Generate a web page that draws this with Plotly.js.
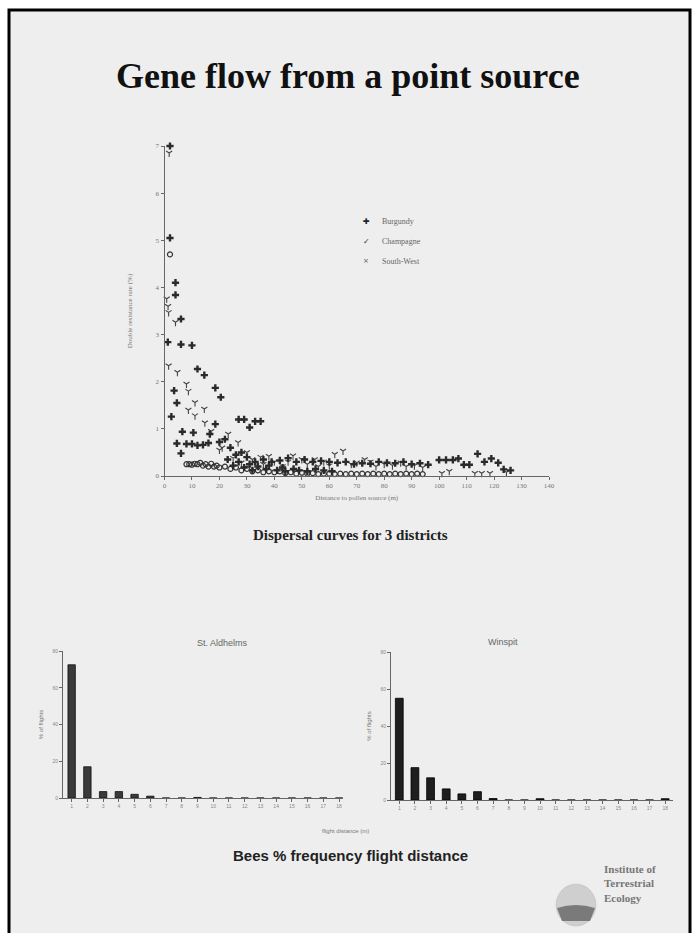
<!DOCTYPE html>
<html><head><meta charset="utf-8">
<script src="https://cdn.plot.ly/plotly-3.0.1.min.js"></script>
<style>html,body{margin:0;padding:0;background:#fff}#chart{width:695px;height:933px}</style>
</head><body><div id="chart"></div>
<script>
// ---- Dispersal data (distance m, double resistance %) ----
const burgundyX = [2,2,4,4,6,1.2,6,10,12,14.5,18.5,20.5,3.5,4.5,2.5,27,29,31,33,35,18.5,6.5,10.5,16.5,22,4.5,6,8,10,12,14,16,20,24,26,28,30,33,36,39,42,45,48,51,54,57,60,63,66,69,72,75,78,81,84,87,90,93,96,100,102.5,105,107,109,111,114,116.5,119,121.5,123.5,126,
  23,25,27,29,31,32,34,37,38,41,43,44,47,49,52,55,58,61];
const burgundyY = [7.0,5.05,4.1,3.84,3.33,2.84,2.79,2.77,2.27,2.14,1.87,1.67,1.81,1.55,1.26,1.2,1.2,1.03,1.16,1.16,1.1,0.94,0.92,0.89,0.78,0.69,0.48,0.68,0.68,0.65,0.66,0.7,0.72,0.6,0.45,0.5,0.4,0.3,0.35,0.3,0.33,0.38,0.3,0.35,0.3,0.32,0.3,0.28,0.3,0.25,0.27,0.26,0.3,0.28,0.27,0.3,0.25,0.27,0.24,0.34,0.34,0.34,0.37,0.24,0.24,0.47,0.3,0.37,0.28,0.14,0.12,
  0.35,0.22,0.3,0.18,0.25,0.12,0.2,0.15,0.22,0.12,0.18,0.1,0.15,0.12,0.1,0.15,0.12,0.1];
const champagneX = [1.7,1.3,1.5,0.8,4,1.5,4.7,8,8.7,11.1,14.5,8.7,11.1,14.7,23.2,26.8,20,30,35,40,46.8,50,54.7,58,62,65,68,72.9,77,83,88,94,101,103.7,113,115.5,118.5,124.5,
  17,21,25,28,32,36,38,43,45,52,56,60,70,75,80,86,91];
const champagneY = [6.85,3.6,3.47,3.76,3.26,2.34,2.2,1.95,1.8,1.56,1.42,1.4,1.28,1.13,0.89,0.71,0.55,0.5,0.4,0.3,0.43,0.35,0.35,0.3,0.46,0.53,0.25,0.35,0.2,0.22,0.2,0.18,0.06,0.1,0.06,0.06,0.06,0.08,
  0.95,0.6,0.38,0.28,0.35,0.25,0.42,0.2,0.3,0.25,0.2,0.22,0.28,0.3,0.25,0.28,0.22];
const southWestX = [2,8,9,10,11,12,13,14,15,16,17,18,19,20,22,24,26,28,30,32,34,36,38,40,42,44,46,48,50,52,54,56,58,60,62,64,66,68,70,72,74,76,78,80,82,84,86,88,90,92,94];
const southWestY = [4.7,0.25,0.25,0.24,0.26,0.25,0.28,0.22,0.25,0.2,0.26,0.2,0.22,0.18,0.2,0.15,0.18,0.12,0.15,0.1,0.12,0.08,0.1,0.08,0.1,0.06,0.08,0.05,0.07,0.05,0.06,0.04,0.05,0.05,0.04,0.05,0.04,0.05,0.04,0.05,0.04,0.05,0.04,0.05,0.04,0.05,0.04,0.05,0.04,0.05,0.04];

// ---- Bee flight distance data ----
const flightDistance = [1,2,3,4,5,6,7,8,9,10,11,12,13,14,15,16,17,18];
const stAldhelms = [72.5,17,3.5,3.5,2,1,0,0,0.3,0,0,0,0,0,0,0,0,0];
const winspit = [55,17.5,12,6,3.3,4.5,0.8,0,0,0.7,0,0,0,0,0,0,0,0.7];

const W = 695, H = 933;
const fx = p => p / W, fy = p => 1 - p / H;

const serif = 'Liberation Serif, Times New Roman, serif';
const sans = 'Liberation Sans, Arial, sans-serif';

const traces = [
  {type:'scatter', mode:'markers', x:southWestX, y:southWestY, xaxis:'x', yaxis:'y', cliponaxis:false,
   marker:{symbol:'circle-open', size:5, color:'#333', line:{width:1.2, color:'#333'}}, name:'South-West', showlegend:false},
  {type:'scatter', mode:'markers', x:champagneX, y:champagneY, xaxis:'x', yaxis:'y', cliponaxis:false,
   marker:{symbol:'y-down-open', size:5, color:'#444', line:{width:1.1, color:'#444'}}, name:'Champagne', showlegend:false},
  {type:'scatter', mode:'markers', x:burgundyX, y:burgundyY, xaxis:'x', yaxis:'y', cliponaxis:false,
   marker:{symbol:'cross', size:6, color:'#2a2a2a', line:{width:0}}, name:'Burgundy', showlegend:false},
  {type:'bar', x:flightDistance, y:stAldhelms, xaxis:'x2', yaxis:'y2', width:0.47,
   marker:{color:'#3a3a3a', line:{color:'#111', width:0.8}}, showlegend:false},
  {type:'bar', x:flightDistance, y:winspit, xaxis:'x3', yaxis:'y3', width:0.5,
   marker:{color:'#1e1e1e', line:{color:'#000', width:0.8}}, showlegend:false}
];

const axBase = {showgrid:false, zeroline:false, showline:true, linecolor:'#666', linewidth:1,
  ticks:'outside', ticklen:3, tickcolor:'#666', fixedrange:true};

const layout = {
  width:W, height:H, margin:{l:0,r:0,t:0,b:0},
  paper_bgcolor:'#ffffff', plot_bgcolor:'rgba(0,0,0,0)', showlegend:false,
  xaxis: Object.assign({}, axBase, {domain:[fx(164.5), fx(549)], range:[0,140], dtick:10, anchor:'y',
    tickfont:{family:serif, size:7, color:'#777'},
    title:{text:'Distance to pollen source (m)', font:{family:serif, size:7, color:'#777'}, standoff:5}}),
  yaxis: Object.assign({}, axBase, {domain:[fy(476), fy(146)], range:[0,7], dtick:1, anchor:'x',
    tickfont:{family:serif, size:7, color:'#777'},
    title:{text:'Double resistance rate (%)', font:{family:serif, size:7, color:'#777'}, standoff:22}}),
  xaxis2: Object.assign({}, axBase, {domain:[fx(63), fx(343)], range:[0.45,18.25], tickvals:flightDistance, anchor:'y2',
    tickfont:{family:sans, size:5, color:'#888'}}),
  yaxis2: Object.assign({}, axBase, {domain:[fy(798), fy(651)], range:[0,80], tickvals:[0,20,40,60,80], anchor:'x2',
    tickfont:{family:sans, size:5, color:'#888'},
    title:{text:'% of flights', font:{family:sans, size:6, color:'#777'}, standoff:8}}),
  xaxis3: Object.assign({}, axBase, {domain:[fx(391), fx(673)], range:[0.47,18.5], tickvals:flightDistance, anchor:'y3',
    tickfont:{family:sans, size:5, color:'#888'}}),
  yaxis3: Object.assign({}, axBase, {domain:[fy(800), fy(652)], range:[0,80], tickvals:[0,20,40,60,80], anchor:'x3',
    tickfont:{family:sans, size:5, color:'#888'},
    title:{text:'% of flights', font:{family:sans, size:6, color:'#777'}, standoff:8}}),
  shapes:[
    {type:'rect', xref:'paper', yref:'paper', x0:fx(9), x1:fx(690), y0:fy(945), y1:fy(10),
     fillcolor:'#eeeeee', line:{color:'#000', width:3}, layer:'below'},
    {type:'circle', xref:'paper', yref:'paper', x0:fx(556), x1:fx(596), y0:fy(926), y1:fy(884),
     fillcolor:'#cfcfcf', line:{color:'#bbb', width:0.5}, layer:'below'},
    {type:'path', xref:'paper', yref:'paper', layer:'below',
     path:`M ${fx(557)} ${fy(908)} Q ${fx(576)} ${fy(902)} ${fx(595)} ${fy(908)} L ${fx(590)} ${fy(921)} L ${fx(562)} ${fy(921)} Z`,
     fillcolor:'#7a7a7a', line:{width:0}}
  ],
  annotations:[
    {text:'<b>Gene flow from a point source</b>', xref:'paper', yref:'paper', x:fx(348), y:fy(76),
     showarrow:false, font:{family:serif, size:36, color:'#111'}, xanchor:'center', yanchor:'middle'},
    {text:'<b>Dispersal curves for 3 districts</b>', xref:'paper', yref:'paper', x:fx(350), y:fy(535),
     showarrow:false, font:{family:serif, size:15, color:'#222'}},
    {text:'✚', xref:'paper', yref:'paper', x:fx(366), y:fy(215), showarrow:false, font:{family:'DejaVu Sans', size:8, color:'#222'}},
    {text:'Burgundy', xref:'paper', yref:'paper', x:fx(380), y:fy(215), xanchor:'left', showarrow:false, font:{family:serif, size:8, color:'#666'}},
    {text:'✓', xref:'paper', yref:'paper', x:fx(366), y:fy(235), showarrow:false, font:{family:'DejaVu Sans', size:8, color:'#333'}},
    {text:'Champagne', xref:'paper', yref:'paper', x:fx(380), y:fy(235), xanchor:'left', showarrow:false, font:{family:serif, size:8, color:'#666'}},
    {text:'×', xref:'paper', yref:'paper', x:fx(366), y:fy(255), showarrow:false, font:{family:'DejaVu Sans', size:7, color:'#555'}},
    {text:'South-West', xref:'paper', yref:'paper', x:fx(380), y:fy(255), xanchor:'left', showarrow:false, font:{family:serif, size:8, color:'#666'}},
    {text:'St. Aldhelms', xref:'paper', yref:'paper', x:fx(195), y:fy(650), showarrow:false, font:{family:sans, size:9, color:'#666'}},
    {text:'Winspit', xref:'paper', yref:'paper', x:fx(520), y:fy(649), showarrow:false, font:{family:sans, size:9, color:'#666'}},
    {text:'flight distance (m)', xref:'paper', yref:'paper', x:fx(345), y:fy(836), showarrow:false, font:{family:sans, size:6, color:'#777'}},
    {text:'<b>Bees % frequency flight distance</b>', xref:'paper', yref:'paper', x:fx(350), y:fy(866), showarrow:false, font:{family:sans, size:15, color:'#222'}},
    {text:'<b>Institute of<br>Terrestrial<br>Ecology</b>', xref:'paper', yref:'paper', x:fx(602), y:fy(906), xanchor:'left', align:'left',
     showarrow:false, font:{family:serif, size:11, color:'#777'}}
  ]
};

Plotly.newPlot('chart', traces, layout, {staticPlot:true, displayModeBar:false});
</script></body></html>
